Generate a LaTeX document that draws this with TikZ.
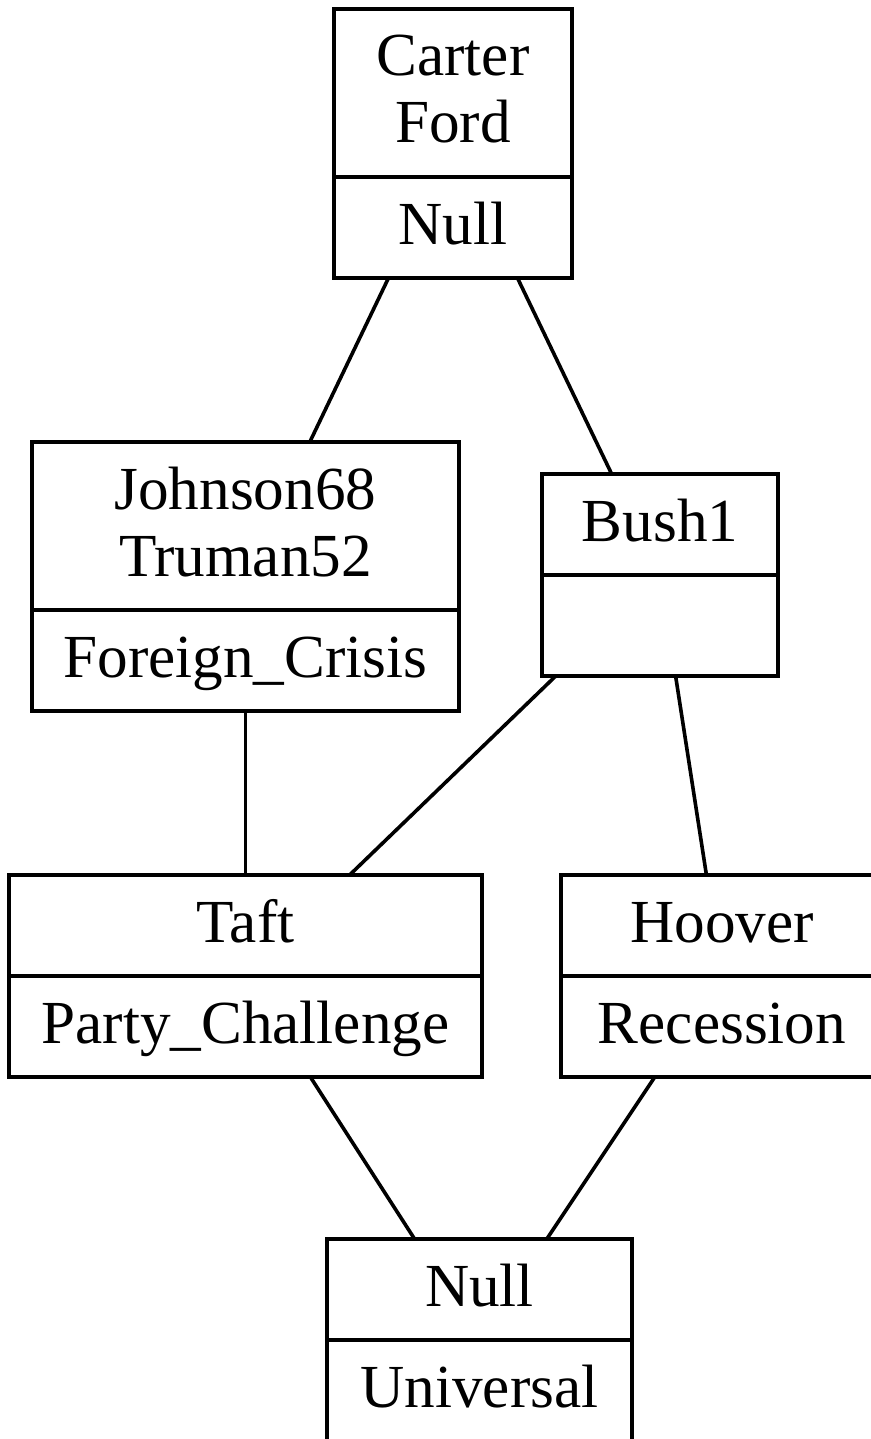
\documentclass[tikz,border=0pt]{standalone}
\usepackage{fontspec}
\setmainfont{Liberation Serif}
\usetikzlibrary{shapes.multipart, positioning}
\newcommand{\lstrut}{\rule[-8.5pt]{0pt}{33.5pt}}

\begin{document}
\begin{tikzpicture}[x=0.5pt, y=-0.5pt,
    concept/.style={draw, line width=2pt, rectangle split, rectangle split parts=2, align=center, inner xsep=0pt, inner ysep=7.5pt, outer sep=0pt, font=\fontsize{30.6pt}{33.5pt}\selectfont},
    link/.style={line width=1.8pt}
  ]
  \useasboundingbox (0,0) rectangle (871,1439);
  % Nodes
  \node (top) [concept, text width=119pt, anchor=north] at (453,9) {\lstrut Carter\\\lstrut Ford \nodepart{two}\lstrut Null};
  \node (johnson) [concept, text width=213.5pt, anchor=north] at (245.5,442) {\lstrut Johnson68\\\lstrut Truman52 \nodepart{two}\lstrut Foreign\_Crisis};
  \node (bush) [concept, text width=118pt, anchor=north] at (660,474) {\lstrut Bush1 \nodepart{two}\lstrut};
  \node (taft) [concept, text width=236.5pt, below=82pt of johnson] {\lstrut Taft \nodepart{two}\lstrut Party\_Challenge};
  \node (hoover) [concept, text width=161pt, right=39.5pt of taft] {\lstrut Hoover \nodepart{two}\lstrut Recession};
  \node (bottom) [concept, text width=152.5pt, anchor=north] at (479.5,1239) {\lstrut Null \nodepart{two}\lstrut Universal};

  % Lines
  \draw [link] (top) -- (johnson);
  \draw [link] (top) -- (bush);
  \draw [link] (johnson) -- (taft);
  \draw [link] (bush) -- (taft);
  \draw [link] (bush) -- (hoover);
  \draw [link] (taft) -- (bottom);
  \draw [link] (hoover) -- (bottom);
\end{tikzpicture}
\end{document}
